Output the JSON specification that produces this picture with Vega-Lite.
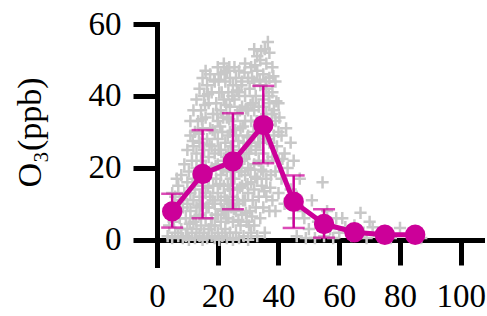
{
  "$schema": "https://vega.github.io/schema/vega-lite/v6.json",
  "width": 325,
  "height": 241,
  "autosize": {"type": "none"},
  "padding": {"left": 157, "top": 24, "right": 5, "bottom": 51},
  "background": "white",
  "config": {"view": {"stroke": null}},
  "datasets": {
    "pts": [
      {"x":3.5,"y":1},{"x":4,"y":4},{"x":4.5,"y":9},{"x":5,"y":0.5},{"x":5.5,"y":5},{"x":6,"y":2},{"x":6,"y":12},{"x":6.5,"y":8},{"x":7,"y":1},{"x":7,"y":15},{"x":7.5,"y":6},{"x":7.5,"y":11},{"x":8,"y":3},{"x":8,"y":18},{"x":8.5,"y":0.5},{"x":8.5,"y":9},{"x":9,"y":13},{"x":9,"y":21},{"x":6.5,"y":17},{"x":5,"y":13},
      {"x":9.5,"y":1},{"x":9.5,"y":6},{"x":10,"y":3},{"x":10,"y":10},{"x":10,"y":16},{"x":10,"y":25},{"x":10.5,"y":0},{"x":10.5,"y":19},{"x":11,"y":8},{"x":11,"y":13},{"x":11,"y":29},{"x":11,"y":33},{"x":11.5,"y":2},{"x":11.5,"y":22},{"x":12,"y":5},{"x":12,"y":11},{"x":12,"y":17},{"x":12,"y":26},{"x":12,"y":36},{"x":12.5,"y":0.5},{"x":12.5,"y":14},{"x":12.5,"y":30},{"x":13,"y":3},{"x":13,"y":9},{"x":13,"y":20},{"x":13,"y":24},{"x":13,"y":39},{"x":13.5,"y":33},
      {"x":14,"y":1},{"x":14,"y":7},{"x":14,"y":12},{"x":14,"y":18},{"x":14,"y":27},{"x":14,"y":42},{"x":14.5,"y":4},{"x":14.5,"y":22},{"x":14.5,"y":36},{"x":15,"y":0},{"x":15,"y":10},{"x":15,"y":15},{"x":15,"y":31},{"x":15,"y":45},{"x":15.5,"y":2},{"x":15.5,"y":25},{"x":15.5,"y":40},{"x":16,"y":6},{"x":16,"y":13},{"x":16,"y":20},{"x":16,"y":34},{"x":16,"y":47},{"x":16.5,"y":0.5},{"x":16.5,"y":28},{"x":16.5,"y":43},{"x":17,"y":3},{"x":17,"y":9},{"x":17,"y":17},{"x":17,"y":23},{"x":17,"y":38},{"x":17.5,"y":12},{"x":17.5,"y":31},{"x":17.5,"y":46},{"x":18,"y":1},{"x":18,"y":6},{"x":18,"y":20},{"x":18,"y":26},{"x":18,"y":41},{"x":18.5,"y":15},{"x":18.5,"y":35},
      {"x":19,"y":0.5},{"x":19,"y":4},{"x":19,"y":10},{"x":19,"y":24},{"x":19,"y":30},{"x":19,"y":44},{"x":19.5,"y":17},{"x":19.5,"y":38},{"x":20,"y":2},{"x":20,"y":7},{"x":20,"y":13},{"x":20,"y":21},{"x":20,"y":28},{"x":20,"y":33},{"x":20,"y":48},{"x":20.5,"y":0},{"x":20.5,"y":41},{"x":21,"y":5},{"x":21,"y":11},{"x":21,"y":18},{"x":21,"y":25},{"x":21,"y":36},{"x":21,"y":46},{"x":21.5,"y":1},{"x":21.5,"y":30},{"x":22,"y":8},{"x":22,"y":15},{"x":22,"y":22},{"x":22,"y":39},{"x":22,"y":49},{"x":22.5,"y":3},{"x":22.5,"y":27},{"x":22.5,"y":44},{"x":23,"y":0.5},{"x":23,"y":11},{"x":23,"y":19},{"x":23,"y":34},{"x":23,"y":47},{"x":23.5,"y":6},{"x":23.5,"y":24},{"x":23.5,"y":41},{"x":24,"y":2},{"x":24,"y":14},{"x":24,"y":30},{"x":24,"y":37},{"x":24,"y":45},{"x":24.5,"y":9},{"x":24.5,"y":20},
      {"x":25,"y":0},{"x":25,"y":5},{"x":25,"y":12},{"x":25,"y":26},{"x":25,"y":33},{"x":25,"y":43},{"x":25.5,"y":17},{"x":25.5,"y":39},{"x":25.5,"y":48},{"x":26,"y":2},{"x":26,"y":8},{"x":26,"y":22},{"x":26,"y":29},{"x":26,"y":45},{"x":26.5,"y":14},{"x":26.5,"y":35},{"x":27,"y":0.5},{"x":27,"y":10},{"x":27,"y":19},{"x":27,"y":25},{"x":27,"y":41},{"x":27,"y":47},{"x":27.5,"y":4},{"x":27.5,"y":31},{"x":28,"y":7},{"x":28,"y":15},{"x":28,"y":22},{"x":28,"y":37},{"x":28,"y":44},{"x":28.5,"y":1},{"x":28.5,"y":27},{"x":29,"y":11},{"x":29,"y":18},{"x":29,"y":33},{"x":29,"y":40},{"x":29,"y":49},{"x":29.5,"y":5},{"x":29.5,"y":24},{"x":30,"y":0},{"x":30,"y":13},{"x":30,"y":20},{"x":30,"y":29},{"x":30,"y":36},{"x":30,"y":45},{"x":30.5,"y":8},{"x":30.5,"y":42},{"x":31,"y":2},{"x":31,"y":16},{"x":31,"y":26},{"x":31,"y":33},{"x":31,"y":48},{"x":31.5,"y":11},{"x":31.5,"y":38},
      {"x":32,"y":4},{"x":32,"y":14},{"x":32,"y":21},{"x":32,"y":29},{"x":32,"y":36},{"x":32,"y":44},{"x":32,"y":53},{"x":32.5,"y":9},{"x":32.5,"y":25},{"x":32.5,"y":40},{"x":33,"y":1},{"x":33,"y":17},{"x":33,"y":33},{"x":33,"y":47},{"x":33,"y":51},{"x":33.5,"y":12},{"x":33.5,"y":22},{"x":33.5,"y":37},{"x":34,"y":6},{"x":34,"y":27},{"x":34,"y":43},{"x":34,"y":50},{"x":34.5,"y":15},{"x":34.5,"y":33},{"x":35,"y":9},{"x":35,"y":19},{"x":35,"y":24},{"x":35,"y":39},{"x":35,"y":46},{"x":35.5,"y":2},{"x":35.5,"y":29},{"x":35.5,"y":53},{"x":36,"y":12},{"x":36,"y":17},{"x":36,"y":35},{"x":36,"y":42},{"x":36,"y":49},{"x":36.5,"y":22},{"x":36.5,"y":55},{"x":37,"y":8},{"x":37,"y":27},{"x":37,"y":38},{"x":37,"y":45},{"x":37,"y":52},{"x":37.5,"y":18},{"x":37.5,"y":32},{"x":38,"y":11},{"x":38,"y":23},{"x":38,"y":41},{"x":38,"y":48},{"x":38.5,"y":29},{"x":38.5,"y":36},
      {"x":39,"y":8},{"x":39,"y":19},{"x":39,"y":33},{"x":39,"y":44},{"x":39.5,"y":26},{"x":40,"y":13},{"x":40,"y":22},{"x":40,"y":30},{"x":40,"y":38},{"x":41,"y":17},{"x":41,"y":29},{"x":42,"y":10},{"x":42,"y":24},{"x":42.5,"y":31},{"x":43,"y":20},{"x":44,"y":14},{"x":44,"y":27},{"x":45,"y":6},{"x":45,"y":22},{"x":46,"y":12},{"x":46,"y":1},{"x":47,"y":17},{"x":48,"y":8},{"x":48.5,"y":6},{"x":49,"y":0.5},{"x":50,"y":3},
      {"x":51,"y":11},{"x":52,"y":0.5},{"x":53,"y":5},{"x":54.5,"y":16},{"x":55,"y":1},{"x":56,"y":8},{"x":57,"y":3},{"x":58,"y":0.5},{"x":59,"y":6},{"x":60,"y":2},{"x":61,"y":6},{"x":62,"y":3.5},
      {"x":64,"y":1},{"x":65,"y":4},{"x":67,"y":7.5},{"x":68,"y":2},{"x":69,"y":0.5},{"x":70,"y":5},{"x":71,"y":3.5},{"x":73,"y":1},{"x":75,"y":2.5},{"x":77,"y":0.5},{"x":80,"y":3.3},{"x":83,"y":1.5},{"x":87,"y":0.5},
      {"x":10.8,"y":4.5},{"x":11.8,"y":27.5},{"x":12.8,"y":6.5},{"x":13.3,"y":16.5},{"x":13.8,"y":29.5},{"x":14.3,"y":9.5},{"x":14.8,"y":33.5},{"x":15.3,"y":19.5},{"x":15.8,"y":37.5},{"x":16.3,"y":9},{"x":16.8,"y":14.5},{"x":16.8,"y":40.5},{"x":17.3,"y":26.5},{"x":17.8,"y":4},{"x":18.3,"y":11},{"x":18.3,"y":30.5},{"x":18.8,"y":44.5},{"x":19.3,"y":7},{"x":19.3,"y":20.5},{"x":19.8,"y":35},{"x":20.3,"y":25},{"x":20.3,"y":44.5},{"x":20.8,"y":15.5},{"x":20.8,"y":31.5},{"x":21.3,"y":8.5},{"x":21.3,"y":41},{"x":21.8,"y":19.5},{"x":21.8,"y":34},{"x":22.3,"y":12},{"x":22.3,"y":46.5},{"x":22.8,"y":6},{"x":22.8,"y":23},{"x":22.8,"y":37.5},{"x":23.3,"y":15},{"x":23.3,"y":29},{"x":23.8,"y":10},{"x":23.8,"y":33.5},{"x":23.8,"y":48},{"x":24.3,"y":17},{"x":24.3,"y":26},{"x":24.8,"y":40},{"x":25.3,"y":8.5},{"x":25.3,"y":21},{"x":25.8,"y":30.5},{"x":26.3,"y":11},{"x":26.3,"y":41.5},{"x":26.8,"y":5.5},{"x":26.8,"y":27.5},{"x":27.3,"y":14.5},{"x":27.3,"y":36},{"x":27.8,"y":19},{"x":27.8,"y":43},{"x":28.3,"y":11},{"x":28.3,"y":31.5},{"x":28.8,"y":22.5},{"x":28.8,"y":46.5},{"x":29.3,"y":7.5},{"x":29.3,"y":36.5},{"x":29.8,"y":15.5},{"x":29.8,"y":28.5},{"x":30.3,"y":4},{"x":30.3,"y":24},{"x":30.8,"y":19.5},{"x":30.8,"y":37.5},{"x":31.3,"y":6.5},{"x":31.3,"y":45},{"x":31.8,"y":30},{"x":32.3,"y":17.5},{"x":32.3,"y":48.5},{"x":32.8,"y":33},{"x":33.3,"y":27},{"x":33.8,"y":44.5},{"x":34.3,"y":19.5},{"x":34.8,"y":37},{"x":35.3,"y":13.5},{"x":35.8,"y":44},{"x":36.3,"y":28},{"x":36.8,"y":40},{"x":37.3,"y":14.5},{"x":37.8,"y":35},{"x":38.3,"y":45.5},{"x":39.3,"y":38.5},{"x":40.3,"y":34},{"x":41.3,"y":22.5},{"x":34.3,"y":52.5}
    ],
    "means": [
      {"x":5,"m":7.9,"lo":3.4,"hi":12.8},
      {"x":15,"m":18.3,"lo":6.0,"hi":30.5},
      {"x":25,"m":21.8,"lo":8.5,"hi":35.2},
      {"x":35,"m":31.9,"lo":21.3,"hi":42.8},
      {"x":45,"m":10.6,"lo":3.3,"hi":17.9},
      {"x":55,"m":4.4,"lo":0.6,"hi":8.5},
      {"x":65,"m":2.1,"lo":null,"hi":null},
      {"x":75,"m":1.4,"lo":null,"hi":null},
      {"x":85,"m":1.4,"lo":null,"hi":null}
    ]
  },
  "encoding": {
    "x": {
      "field": "x", "type": "quantitative",
      "scale": {"domain": [0, 107], "nice": false, "zero": false},
      "axis": {
        "values": [0, 20, 40, 60, 80, 100], "offset": -25, "tickSize": 25, "tickWidth": 5,
        "domainWidth": 5, "domainColor": "black", "tickColor": "black", "domainCap": "square",
        "labelFont": "Liberation Serif", "labelFontSize": 33, "labelColor": "black",
        "labelPadding": 15, "labelFlush": false, "grid": false, "title": null
      }
    }
  },
  "layer": [
    {
      "data": {"name": "pts"},
      "mark": {"type": "point", "shape": "M-1,0H1M0,-1V1", "filled": false, "stroke": "#c8c8c8", "strokeWidth": 2.5, "size": 150, "opacity": 1},
      "encoding": {
        "y": {
          "field": "y", "type": "quantitative",
          "scale": {"domain": [-7, 60], "nice": false, "zero": false},
          "axis": {
            "values": [0, 20, 40, 60], "tickSize": 24, "tickWidth": 5, "domainWidth": 5,
            "domainColor": "black", "tickColor": "black", "domainCap": "square",
            "labelFont": "Liberation Serif", "labelFontSize": 33, "labelColor": "black",
            "labelPadding": 12, "grid": false,
            "title": "O₃(ppb)", "titleFont": "Liberation Serif", "titleFontSize": 34,
            "titleFontWeight": "normal", "titleColor": "black", "titleAngle": 270,
            "titleAlign": "center", "titleBaseline": "alphabetic", "titleX": -117, "titleY": 108
          }
        }
      }
    },
    {
      "data": {"name": "means"},
      "transform": [{"filter": "datum.lo != null"}],
      "mark": {"type": "rule", "color": "#cc0099", "strokeWidth": 2.5},
      "encoding": {"y": {"field": "lo", "type": "quantitative"}, "y2": {"field": "hi"}}
    },
    {
      "data": {"name": "means"},
      "transform": [{"filter": "datum.lo != null"}],
      "mark": {"type": "tick", "orient": "horizontal", "color": "#cc0099", "size": 22, "thickness": 2.5},
      "encoding": {"y": {"field": "lo", "type": "quantitative"}}
    },
    {
      "data": {"name": "means"},
      "transform": [{"filter": "datum.lo != null"}],
      "mark": {"type": "tick", "orient": "horizontal", "color": "#cc0099", "size": 22, "thickness": 2.5},
      "encoding": {"y": {"field": "hi", "type": "quantitative"}}
    },
    {
      "data": {"name": "means"},
      "mark": {"type": "line", "color": "#cc0099", "strokeWidth": 5},
      "encoding": {"y": {"field": "m", "type": "quantitative"}}
    },
    {
      "data": {"name": "means"},
      "mark": {"type": "point", "shape": "circle", "filled": true, "color": "#cc0099", "size": 415, "opacity": 1},
      "encoding": {"y": {"field": "m", "type": "quantitative"}}
    }
  ]
}
